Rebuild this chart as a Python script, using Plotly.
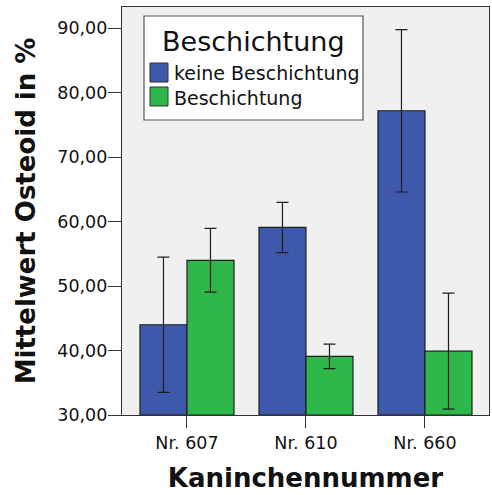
import plotly.graph_objects as go

categories = ["Nr. 607", "Nr. 610", "Nr. 660"]
series_names = ["keine Beschichtung", "Beschichtung"]
means_keine = [44.0, 59.1, 77.2]
err_keine = [10.5, 3.9, 12.6]
means_besch = [54.0, 39.1, 39.9]
err_besch = [4.95, 1.9, 9.0]
y_ticks = [30, 40, 50, 60, 70, 80, 90]
y_tick_text = ["30,00", "40,00", "50,00", "60,00", "70,00", "80,00", "90,00"]
legend_title = "Beschichtung"

colors = ["#3e58ac", "#2fb84a"]
edge = "#1e1e1e"
font_family = "DejaVu Sans"
Y_BASE = 30

W, H = 492, 495
M_L, M_R, M_T, M_B = 122, 3, 7, 80
PW, PH = W - M_L - M_R, H - M_T - M_B


def px(x):
    return (x - M_L) / PW


def py(y):
    return (H - M_B - y) / PH


fig = go.Figure()
for name, vals, errs, col in [
    (series_names[0], means_keine, err_keine, colors[0]),
    (series_names[1], means_besch, err_besch, colors[1]),
]:
    fig.add_trace(go.Bar(
        x=list(range(len(categories))), y=[v - Y_BASE for v in vals], base=Y_BASE,
        name=name, showlegend=False,
        marker=dict(color=col, line=dict(color=edge, width=1.2)),
        error_y=dict(type="data", array=errs, color=edge, thickness=1.2, width=6),
    ))

# legend box drawn in paper coordinates
shapes = [dict(type="rect", xref="paper", yref="paper",
               x0=px(144), x1=px(363), y0=py(120), y1=py(16),
               fillcolor="white", line=dict(color="#555555", width=1.2), layer="above")]
annotations = [dict(xref="paper", yref="paper", x=px(253.5), y=py(41),
                    text=legend_title, showarrow=False, xanchor="center", yanchor="middle",
                    font=dict(size=27, family=font_family, color="#111111"))]
for i, (name, col) in enumerate(zip(series_names, colors)):
    top = 63 + 24 * i
    shapes.append(dict(type="rect", xref="paper", yref="paper",
                       x0=px(150), x1=px(168), y0=py(top + 19), y1=py(top),
                       fillcolor=col, line=dict(color="#333333", width=1), layer="above"))
    annotations.append(dict(xref="paper", yref="paper", x=px(172), y=py(top + 10.5),
                            text=name, showarrow=False, xanchor="left", yanchor="middle",
                            font=dict(size=19, family=font_family, color="#111111")))

fig.update_layout(
    width=W, height=H,
    margin=dict(l=M_L, r=M_R, t=M_T, b=M_B),
    paper_bgcolor="white", plot_bgcolor="#f0f0f0",
    barmode="group", bargap=0.21, bargroupgap=0,
    font=dict(family=font_family, color="#111111"),
    showlegend=False,
    shapes=shapes, annotations=annotations,
    xaxis=dict(
        range=[-0.546, 2.538], tickvals=[0, 1, 2], ticktext=categories,
        ticks="outside", ticklen=12, tickcolor="#333333", tickwidth=1.2,
        tickfont=dict(size=17.5), showgrid=False, zeroline=False,
        showline=True, linecolor="#333333", linewidth=1.2, mirror=True,
        title=dict(text="<b>Kaninchennummer</b>", font=dict(size=26), standoff=16),
    ),
    yaxis=dict(
        range=[30, 93.3], tickvals=y_ticks, ticktext=y_tick_text,
        ticks="outside", ticklen=13, tickcolor="#333333", tickwidth=1.2,
        tickfont=dict(size=17.5), showgrid=False, zeroline=False,
        showline=True, linecolor="#333333", linewidth=1.2, mirror=True,
        ticklabelstandoff=-3,
        title=dict(text="<b>Mittelwert Osteoid in %</b>", font=dict(size=26), standoff=14),
    ),
)

fig.write_html("out.html")
